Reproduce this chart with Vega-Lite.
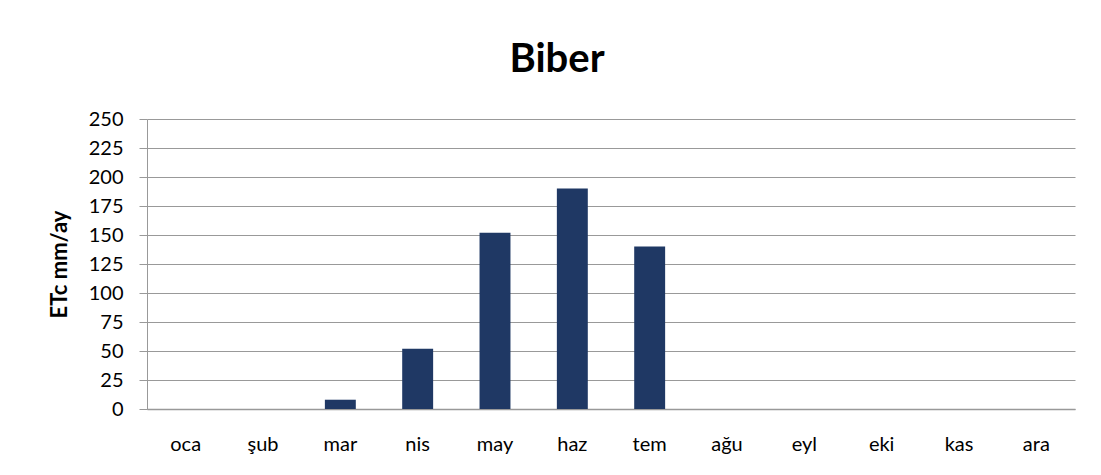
{
  "$schema": "https://vega.github.io/schema/vega-lite/v6.json",
  "width": 928,
  "height": 290,
  "autosize": {"type": "none"},
  "padding": {"left": 147, "top": 119, "right": 26, "bottom": 66},
  "background": "white",
  "title": {
    "text": "Biber",
    "font": "Lato",
    "fontSize": 40,
    "fontWeight": "bold",
    "color": "#000000",
    "frame": "group",
    "anchor": "middle",
    "baseline": "alphabetic",
    "offset": -3,
    "dx": -54
  },
  "data": {
    "values": [
      {"ay": "oca", "etc": 0},
      {"ay": "şub", "etc": 0},
      {"ay": "mar", "etc": 8},
      {"ay": "nis", "etc": 52},
      {"ay": "may", "etc": 152},
      {"ay": "haz", "etc": 190},
      {"ay": "tem", "etc": 140},
      {"ay": "ağu", "etc": 0},
      {"ay": "eyl", "etc": 0},
      {"ay": "eki", "etc": 0},
      {"ay": "kas", "etc": 0},
      {"ay": "ara", "etc": 0}
    ]
  },
  "mark": {"type": "bar", "color": "#1F3864"},
  "encoding": {
    "x": {
      "field": "ay",
      "type": "nominal",
      "sort": null,
      "scale": {"paddingInner": 0.6, "paddingOuter": 0.3},
      "axis": {
        "title": null,
        "labelAngle": 0,
        "ticks": false,
        "labelPadding": 25,
        "labelFont": "Lato",
        "labelFontSize": 20,
        "labelColor": "#000000",
        "domainColor": "#999999",
        "domainWidth": 1.5,
        "grid": false
      }
    },
    "y": {
      "field": "etc",
      "type": "quantitative",
      "scale": {"domain": [0, 250], "nice": false},
      "axis": {
        "title": "ETc mm/ay",
        "titleFont": "Lato",
        "titleFontSize": 22,
        "titleFontWeight": "bold",
        "titleColor": "#000000",
        "titlePadding": 17,
        "values": [0, 25, 50, 75, 100, 125, 150, 175, 200, 225, 250],
        "labelFont": "Lato",
        "labelFontSize": 20,
        "labelColor": "#000000",
        "labelPadding": 16,
        "tickSize": 8,
        "tickColor": "#999999",
        "domainColor": "#999999",
        "gridColor": "#999999",
        "gridWidth": 1.2,
        "grid": true
      }
    }
  },
  "config": {"view": {"stroke": null}}
}
